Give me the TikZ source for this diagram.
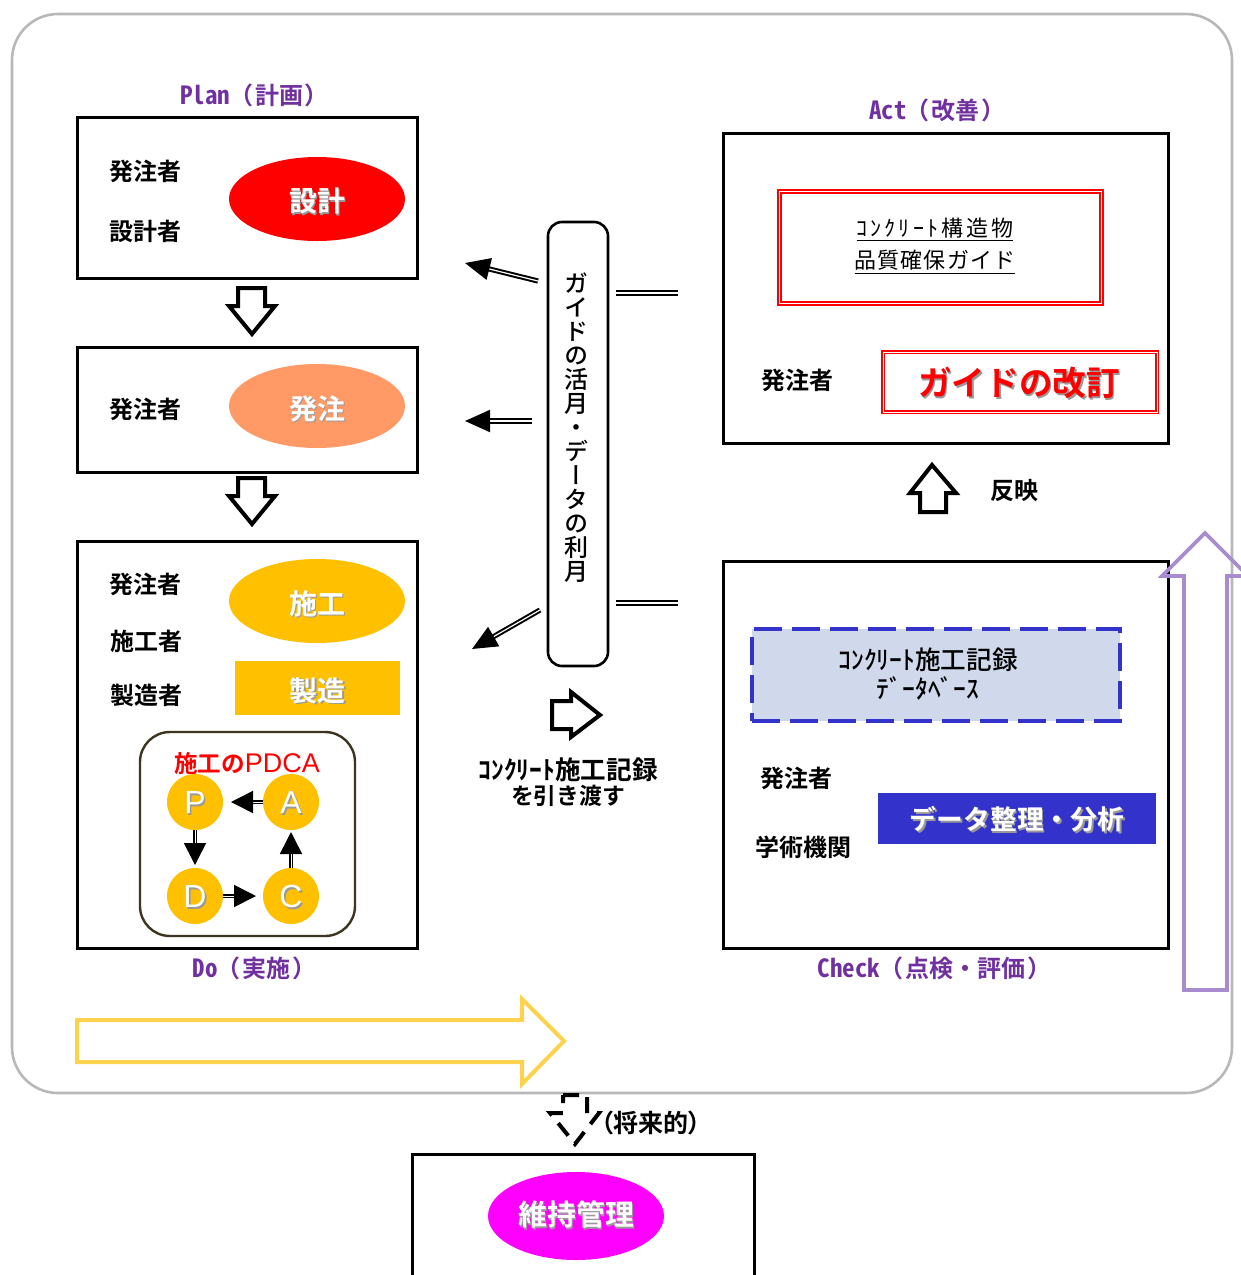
\documentclass[tikz,border=0pt]{standalone}
\usepackage{fontspec}
\usetikzlibrary{shapes.geometric,arrows.meta}
\setmainfont{Liberation Sans}
\newfontfamily\cjk{Noto Sans CJK JP}[BoldFont={Noto Sans CJK JP Bold}]
\newfontfamily\cjkm{Noto Sans CJK JP Medium}
\newfontfamily\cjkp{Noto Sans CJK JP}[BoldFont={Noto Sans CJK JP Bold},RawFeature=+palt]
\newfontfamily\cjkh{Noto Sans CJK JP}[BoldFont={Noto Sans CJK JP Bold},RawFeature=+hwid]
\newfontfamily\cjkv{Noto Sans CJK JP Medium}[RawFeature=+vert]
\newfontfamily\cjkw{Noto Sans CJK JP}[LetterSpace=14]
\newfontfamily\cjkx{Noto Sans CJK JP}[LetterSpace=5]
\definecolor{plum}{HTML}{7030A0}
\definecolor{amber}{HTML}{FFC000}
\definecolor{salmon}{HTML}{FF9966}
\definecolor{indigo}{HTML}{3333CC}
\definecolor{mist}{HTML}{D0D9EC}
\definecolor{lilac}{HTML}{A98BD0}
\definecolor{straw}{HTML}{FFD24D}
\definecolor{umber}{HTML}{3D3520}
\definecolor{fuchsia}{HTML}{FF00FF}
\newcommand\shtxt[1]{\leavevmode\rlap{\kern.8pt\raisebox{-.8pt}{\color{black!40}#1}}#1}
\newcommand\lowtxt[2][-1.6pt]{\raisebox{#1}[\height][\depth]{\shtxt{#2}}}
\newcommand\phase[2]{{\cjkh\bfseries\fontsize{12.5}{14}\selectfont #1}\kern5pt{\cjkp\bfseries\fontsize{12}{14}\selectfont （}\kern1.5pt{\cjk\bfseries\fontsize{12}{14}\selectfont #2}\kern1.5pt{\cjkp\bfseries\fontsize{12}{14}\selectfont ）}}
\tikzset{
 panel/.style={draw=black,line width=1.5pt,fill=white,inner sep=0pt,outer sep=0pt},
 oval/.style={ellipse,inner sep=0pt,outer sep=0pt,minimum width=88pt,minimum height=42pt,text=white,font=\cjk\bfseries\fontsize{14}{16}\selectfont},
 role/.style={inner sep=0pt,font=\cjk\bfseries\fontsize{12}{14}\selectfont},
 phaselabel/.style={inner sep=0pt,text=plum},
 token/.style={circle,fill=amber,minimum size=28pt,inner sep=0pt,outer sep=0pt,text=white,font=\fontsize{16}{18}\selectfont},
 hollow/.style={draw=black,line width=2pt,fill=white,line join=miter},
 dblline/.style={draw=black,line width=1pt,double=white,double distance=.6pt},
 dblarrow/.style={dblline,-{Triangle[length=12.5pt,width=11pt]}},
 dblsmall/.style={draw=black,line width=.8pt,double=white,double distance=.5pt,-{Triangle[length=11pt,width=11pt]}},
 redbox/.style={draw=red,inner sep=0pt,outer sep=0pt,fill=white},
}
\begin{document}
\begin{tikzpicture}[x=.5pt,y=-.5pt]
\useasboundingbox (0,0) rectangle (1241,1275);
% outer frame
\draw[draw=black!28,line width=1.3pt,rounded corners=23pt] (12,14) rectangle (1232,1093);
% phase panels
\node[panel,minimum width=170pt,minimum height=80.5pt] (plan) at (247,197.5) {};
\node[panel,minimum width=170pt,minimum height=62.5pt] (order) at (247,409.5) {};
\node[panel,minimum width=170pt,minimum height=203.5pt] (do) at (247,744.5) {};
\node[panel,minimum width=222.5pt,minimum height=155pt] (act) at (946,288) {};
\node[panel,minimum width=222.5pt,minimum height=193.5pt] (check) at (946,754.5) {};
\node[panel,minimum width=171pt,minimum height=70pt] (maint) at (583,1224) {};
% phase labels
\node[phaselabel] (lplan) at (249,95) {\phase{Plan}{計画}};
\node[phaselabel] (ldo) at (249,968) {\phase{Do}{実施}};
\node[phaselabel] (lact) at (932,110) {\phase{Act}{改善}};
\node[phaselabel] (lcheck) at (929,968) {\phase{Check}{点検・評価}};
% plan
\node[oval,fill=red] (design) at (317,199) {\lowtxt{設計}};
\node[role] (r1) at (145,171) {発注者};
\node[role] (r2) at (145,231) {設計者};
% order
\node[oval,fill=salmon] (ordering) at (317,406) {\lowtxt{発注}};
\node[role] (r3) at (145,409) {発注者};
% do
\node[oval,fill=amber] (build) at (317,601) {\lowtxt{施工}};
\node[rectangle,fill=amber,minimum width=82.5pt,minimum height=27pt,inner sep=0pt,text=white,font=\cjk\bfseries\fontsize{14}{16}\selectfont] (make) at (317.5,688) {\lowtxt{製造}};
\node[role] (r4) at (145,584) {発注者};
\node[role] (r5) at (146,641) {施工者};
\node[role] (r6) at (146,695) {製造者};
\node[draw=umber,line width=1.2pt,rounded corners=15pt,minimum width=107.5pt,minimum height=102pt,inner sep=0pt] (pdca) at (247.5,834) {};
\node[inner sep=0pt,text=red] (pdcat) at (247,764) {{\cjk\bfseries\fontsize{11.8}{14}\selectfont 施工の}{\fontsize{13.5}{14}\selectfont PDCA}};
\node[token] (P) at (195,802) {\lowtxt[-.7pt]{P}};
\node[token] (A) at (291,802) {\lowtxt[-.7pt]{A}};
\node[token] (D) at (195,896) {\lowtxt[-.7pt]{D}};
\node[token] (C) at (291,896) {\lowtxt[-.7pt]{C}};
\draw[dblsmall,shorten >=4pt] (A) -- (P);
\draw[dblsmall,shorten >=1.5pt] (P) -- (D);
\draw[dblsmall,shorten >=3.5pt] (D) -- (C);
\draw[dblsmall,shorten >=1pt] (C) -- (A);
% hollow flow arrows
\draw[hollow] (238,288) -- (265,288) -- (265,306) -- (275,306) -- (252,334) -- (229,306) -- (238,306) -- cycle;
\draw[hollow] (238,478) -- (265,478) -- (265,496) -- (275,496) -- (252,524) -- (229,496) -- (238,496) -- cycle;
\draw[hollow] (920,512) -- (946,512) -- (946,493) -- (956,493) -- (932,465) -- (910,493) -- (920,493) -- cycle;
\draw[hollow] (552,701) -- (571,701) -- (571,692) -- (600,715) -- (571,737) -- (571,729) -- (552,729) -- cycle;
% guide bar
\node[draw=black,line width=1.3pt,rounded corners=7pt,fill=white,minimum width=30pt,minimum height=222pt,inner sep=0pt,outer sep=0pt] (bar) at (578,444) {};
\node[inner sep=0pt,align=center,font=\cjkv\fontsize{12}{12}\selectfont] (bart) at (576,427.5) {ガ\\イ\\ド\\の\\活\\月\\・\\デ\\ー\\タ\\の\\利\\月};
\coordinate (t1) at (538,281);
\coordinate (h1) at (465,263);
\coordinate (t2) at (532,421);
\coordinate (h2) at (465,421);
\coordinate (t3) at (540,610);
\coordinate (h3) at (472,649);
\draw[dblarrow] (t1) -- (h1);
\draw[dblarrow] (t2) -- (h2);
\draw[dblarrow] (t3) -- (h3);
\coordinate (s1) at (616,293);
\coordinate (e1) at (678,293);
\coordinate (s2) at (616,603);
\coordinate (e2) at (678,603);
\draw[dblline] (s1) -- (e1);
\draw[dblline] (s2) -- (e2);
\node[inner sep=0pt,align=center,font=\cjk\bfseries] (hand) at (568,782) {{\fontsize{12.8}{14}\selectfont ｺﾝｸﾘｰﾄ施工記録}\\[.8pt]{\fontsize{11.4}{14}\selectfont を引き渡す}};
% act
\node[redbox,line width=1pt,double=white,double distance=.7pt,minimum width=161pt,minimum height=56pt] (guidebox) at (940.5,247.5) {};
\node[inner sep=0pt,align=center,font=\fontsize{11}{16}\selectfont] (guidet) at (935,246) {\underline{\cjkw ｺﾝｸﾘｰﾄ構造物}\\\underline{\cjkx 品質確保ガイド}};
\node[redbox,line width=.6pt,double=white,double distance=.5pt,minimum width=137pt,minimum height=30pt] (revbox) at (1020,382) {};
\node[inner sep=0pt,text=red,font=\cjk\bfseries\fontsize{16.8}{18}\selectfont] (revt) at (1019,382) {\lowtxt[-1pt]{ガイドの改訂}};
\node[role] (r7) at (797,380) {発注者};
\node[role] (refl) at (1014,491) {反映};
% check
\node[draw=indigo,fill=mist,line width=1.7pt,dash pattern=on 14pt off 5pt,minimum width=184pt,minimum height=46pt,inner sep=0pt] (db) at (936,675) {};
\node[inner sep=0pt,align=center,font=\cjkm\fontsize{12.8}{14.5}\selectfont] (dbt) at (928,674) {ｺﾝｸﾘｰﾄ施工記録\\ﾃﾞｰﾀﾍﾞｰｽ};
\node[rectangle,fill=indigo,minimum width=139pt,minimum height=25.5pt,inner sep=0pt,text=white,font=\cjk\bfseries\fontsize{13.4}{15}\selectfont] (dataproc) at (1017,818.5) {\lowtxt[-.8pt]{データ整理・分析}};
\node[role] (r8) at (796,778) {発注者};
\node[role] (r9) at (803,847) {学術機関};
% big arrows
\draw[draw=lilac,line width=1.8pt] (1184,990) -- (1227,990) -- (1227,576) -- (1248,576) -- (1205,533) -- (1162,576) -- (1184,576) -- cycle;
\draw[draw=straw,line width=2pt] (77,1020) -- (522,1020) -- (522,999) -- (564,1041) -- (522,1084) -- (522,1062) -- (77,1062) -- cycle;
% future
\draw[draw=black,line width=2pt,dash pattern=on 8pt off 5pt] (563,1095) -- (587,1095) -- (587,1113) -- (599,1113) -- (575,1144) -- (550,1113) -- (563,1113) -- cycle;
\node[inner sep=0pt,font=\cjkp\bfseries\fontsize{12.5}{14}\selectfont] (fut) at (651,1123) {（将来的）};
\node[oval,fill=fuchsia,minimum height=44pt,font=\cjk\bfseries\fontsize{14.5}{16}\selectfont] (keep) at (576,1216) {\lowtxt[.4pt]{維持管理}};
\end{tikzpicture}
\end{document}
